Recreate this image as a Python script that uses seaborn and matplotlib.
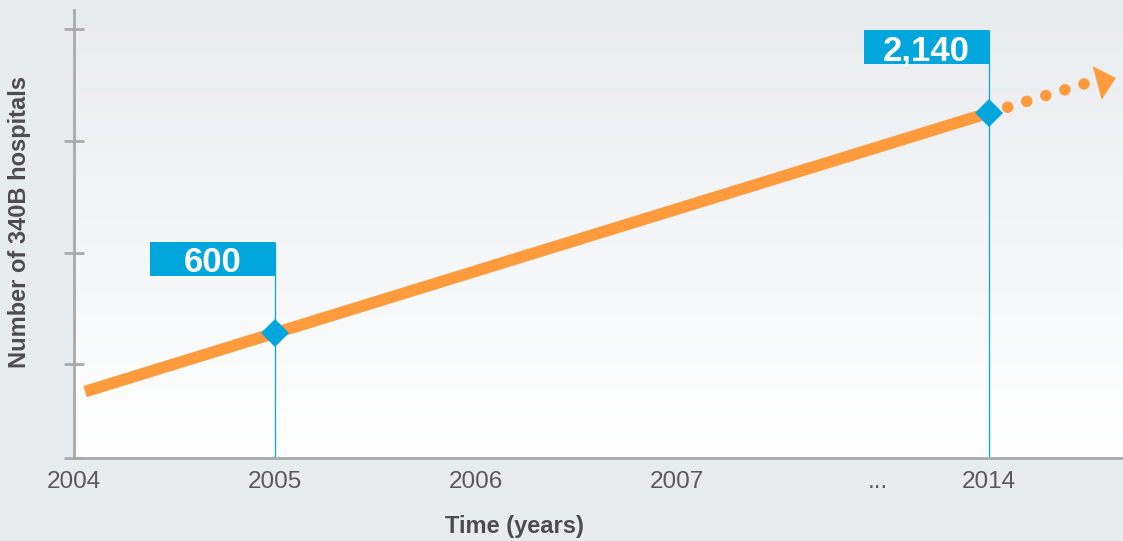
import numpy as np
import pandas as pd
import matplotlib
matplotlib.use("Agg")
import matplotlib.pyplot as plt
import seaborn as sns
from matplotlib.markers import MarkerStyle
from matplotlib.path import Path
from matplotlib.transforms import Affine2D
from matplotlib.patches import Rectangle
from matplotlib.colors import LinearSegmentedColormap

# ---------------- data ----------------
tick_pos = [0, 1, 2, 3, 4, 4.55]
tick_labels = ["2004", "2005", "2006", "2007", "...", "2014"]
trend_x = [0.055, 1, 4.55]
trend_y = [190, 600, 2140]
point_x = [1, 4.55]
point_y = [600, 2140]
point_labels = ["600", "2,140"]
proj_x = [4.55, 5.05]
proj_y = [2140, 2354]
arrow_x = [5.134]
arrow_y = [2371]

# ---------------- style ----------------
sns.set_theme(style="white")
plt.rcParams["font.family"] = ["Liberation Sans", "DejaVu Sans"]

BG = "#e9ecef"
ORANGE = "#FF9A3D"
BLUE = "#00A6DC"
AXIS = "#a7a9ac"
TXT = "#58595b"

fig = plt.figure(figsize=(11.23, 5.41), dpi=100, facecolor=BG)
ax = fig.add_axes([74 / 1123, 83 / 541, 1049 / 1123, 448 / 541])
ax.set_facecolor(BG)

# gradient plot background
cmap = LinearSegmentedColormap.from_list("g", ["#ffffff", BG])
ax.imshow(np.linspace(0, 1, 256).reshape(-1, 1), extent=[0, 1, 0, 1],
          transform=ax.transAxes, cmap=cmap, aspect="auto", origin="lower",
          zorder=0, interpolation="bilinear")

YMIN, YMAX = -275, 2861
XMIN, XMAX = 0, 5.219

# vertical guide lines and label boxes
box_w = 0.622
box_h = 238
box_bottom = [999, 2483]
ax.vlines(point_x, YMIN, [b + box_h for b in box_bottom], color=BLUE,
          lw=0.9, zorder=2)
for x, b, lab in zip(point_x, box_bottom, point_labels):
    ax.add_patch(Rectangle((x - box_w, b), box_w, box_h, facecolor=BLUE,
                           edgecolor="none", zorder=3))
    ax.text(x - box_w / 2, b + box_h / 2, lab, ha="center",
            va="center_baseline", color="white", fontsize=25,
            fontweight="bold", zorder=4)

# trend line
df = pd.DataFrame({"x": trend_x, "y": trend_y})
sns.lineplot(data=df, x="x", y="y", ax=ax, color=ORANGE, lw=8.4,
             solid_capstyle="butt", zorder=3)

# projection dotted line
dfp = pd.DataFrame({"x": proj_x, "y": proj_y})
l = sns.lineplot(data=dfp, x="x", y="y", ax=ax, color=ORANGE, lw=8.3,
                 zorder=3)
l.lines[-1].set_linestyle((0, (0.01, 1.72)))
l.lines[-1].set_dash_capstyle("round")

# arrow head
tri = Path([(-0.5, -0.9), (0.5, 0.0), (-0.5, 0.9), (-0.5, -0.9)],
           [Path.MOVETO, Path.LINETO, Path.LINETO, Path.CLOSEPOLY])
mk = MarkerStyle(tri, transform=Affine2D().rotate_deg(15))
ax.plot(arrow_x, arrow_y, marker=mk, ms=25, color=ORANGE, ls="none",
        markeredgewidth=0, zorder=3)

# diamond markers
ax.plot(point_x, point_y, marker="D", ms=14, color=BLUE, ls="none",
        markeredgewidth=0, zorder=5)

# axes
ax.set_xlim(XMIN, XMAX)
ax.set_ylim(YMIN, YMAX)
ax.set_xticks(tick_pos)
ax.set_xticklabels(tick_labels)
ax.set_yticks([-275, 383, 1160, 1944, 2728])
ax.set_yticklabels([])
ax.tick_params(axis="x", length=0, pad=9.5, labelsize=17.5, labelcolor=TXT)
ax.tick_params(axis="y", direction="inout", length=14, width=2, color=AXIS,
               left=True)
ax.set_xlabel("")
ax.set_ylabel("")
for s in ["top", "right"]:
    ax.spines[s].set_visible(False)
for s in ["left", "bottom"]:
    ax.spines[s].set_color(AXIS)
    ax.spines[s].set_linewidth(2)
    ax.spines[s].set_zorder(6)

fig.text(20 / 1123, 1 - 222 / 541, "Number of 340B hospitals", rotation=90,
         ha="center", va="center", fontsize=17, fontweight="bold",
         color="#4d4d4f")
fig.text(514 / 1123, 1 - 526 / 541, "Time (years)", ha="center",
         va="center", fontsize=17, fontweight="bold", color="#4d4d4f")

fig.savefig("out.png", dpi=100, facecolor=BG)
